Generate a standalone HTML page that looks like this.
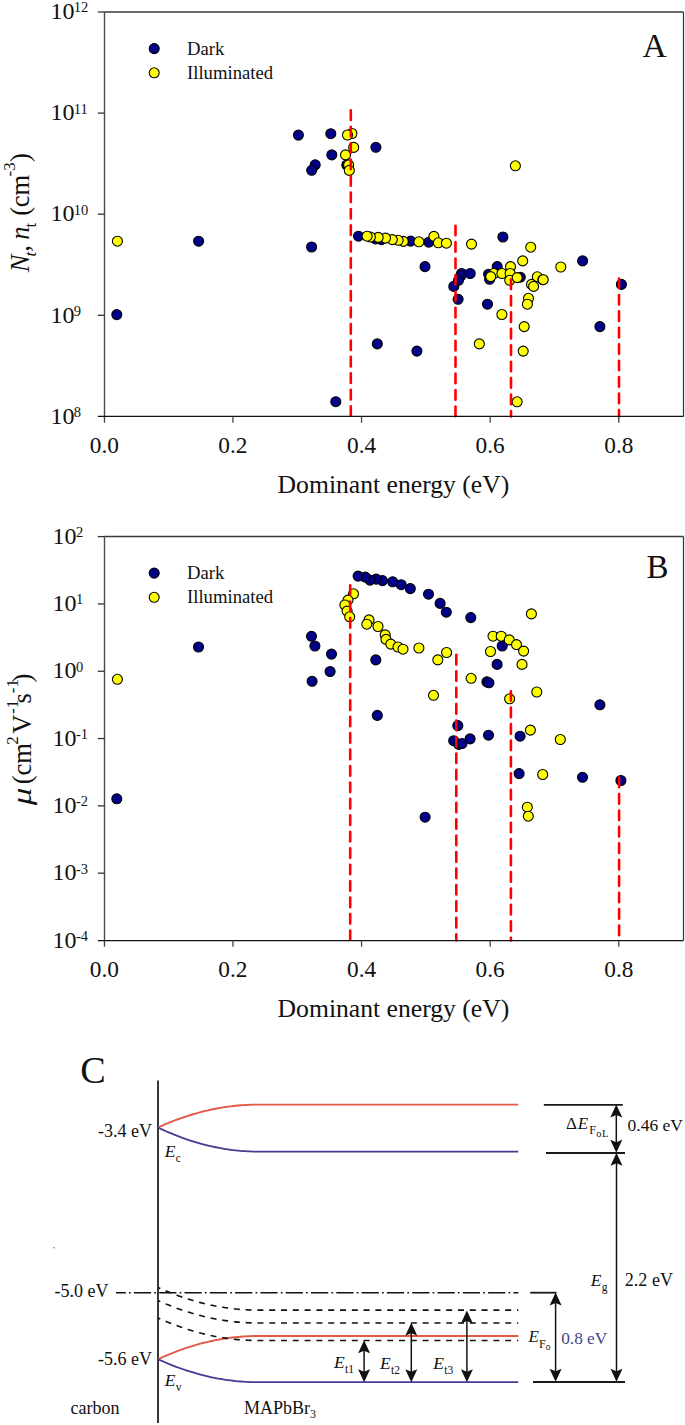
<!DOCTYPE html>
<html><head><meta charset="utf-8"><style>
html,body{margin:0;padding:0;background:#fff;overflow:hidden;}
svg{display:block;}
text{font-family:"Liberation Serif",serif;fill:#111;}
</style></head><body>
<svg width="685" height="1425" viewBox="0 0 685 1425">
<rect width="685" height="1425" fill="#fff"/>
<g stroke="#000" stroke-width="1.1"><circle cx="298.4" cy="135.1" r="5" fill="#000088"/><circle cx="330.8" cy="133.7" r="5" fill="#000088"/><circle cx="331.8" cy="154.9" r="5" fill="#000088"/><circle cx="315.2" cy="164.8" r="5" fill="#000088"/><circle cx="311.7" cy="170.3" r="5" fill="#000088"/><circle cx="375.9" cy="147.3" r="5" fill="#000088"/><circle cx="346.8" cy="165.0" r="5" fill="#000088"/><circle cx="198.6" cy="241.2" r="5" fill="#000088"/><circle cx="311.6" cy="247.0" r="5" fill="#000088"/><circle cx="116.8" cy="314.6" r="5" fill="#000088"/><circle cx="335.8" cy="401.7" r="5" fill="#000088"/><circle cx="358.5" cy="236.2" r="5" fill="#000088"/><circle cx="375.5" cy="238.9" r="5" fill="#000088"/><circle cx="381.4" cy="239.6" r="5" fill="#000088"/><circle cx="410.6" cy="241.1" r="5" fill="#000088"/><circle cx="428.8" cy="242.2" r="5" fill="#000088"/><circle cx="502.9" cy="237.0" r="5" fill="#000088"/><circle cx="425.0" cy="266.6" r="5" fill="#000088"/><circle cx="461.6" cy="273.5" r="5" fill="#000088"/><circle cx="470.2" cy="273.5" r="5" fill="#000088"/><circle cx="460.6" cy="276.2" r="5" fill="#000088"/><circle cx="458.5" cy="280.3" r="5" fill="#000088"/><circle cx="453.8" cy="286.4" r="5" fill="#000088"/><circle cx="458.1" cy="299.3" r="5" fill="#000088"/><circle cx="497.2" cy="266.6" r="5" fill="#000088"/><circle cx="488.6" cy="274.2" r="5" fill="#000088"/><circle cx="489.6" cy="279.3" r="5" fill="#000088"/><circle cx="520.3" cy="277.2" r="5" fill="#000088"/><circle cx="487.5" cy="304.2" r="5" fill="#000088"/><circle cx="582.6" cy="260.9" r="5" fill="#000088"/><circle cx="621.4" cy="284.4" r="5" fill="#000088"/><circle cx="599.9" cy="326.6" r="5" fill="#000088"/><circle cx="377.3" cy="343.9" r="5" fill="#000088"/><circle cx="416.9" cy="351.1" r="5" fill="#000088"/><circle cx="117.4" cy="241.2" r="5" fill="#ffff00"/><circle cx="351.9" cy="133.5" r="5" fill="#ffff00"/><circle cx="347.5" cy="135.0" r="5" fill="#ffff00"/><circle cx="353.7" cy="147.4" r="5" fill="#ffff00"/><circle cx="345.5" cy="154.9" r="5" fill="#ffff00"/><circle cx="348.6" cy="164.9" r="5" fill="#ffff00"/><circle cx="349.3" cy="170.4" r="5" fill="#ffff00"/><circle cx="418.9" cy="241.8" r="5" fill="#ffff00"/><circle cx="403.3" cy="241.4" r="5" fill="#ffff00"/><circle cx="398.2" cy="240.3" r="5" fill="#ffff00"/><circle cx="392.3" cy="239.6" r="5" fill="#ffff00"/><circle cx="385.5" cy="238.1" r="5" fill="#ffff00"/><circle cx="378.2" cy="237.4" r="5" fill="#ffff00"/><circle cx="370.4" cy="237.0" r="5" fill="#ffff00"/><circle cx="367.1" cy="236.2" r="5" fill="#ffff00"/><circle cx="433.9" cy="236.4" r="5" fill="#ffff00"/><circle cx="438.3" cy="242.8" r="5" fill="#ffff00"/><circle cx="446.4" cy="243.2" r="5" fill="#ffff00"/><circle cx="471.5" cy="244.1" r="5" fill="#ffff00"/><circle cx="530.7" cy="247.2" r="5" fill="#ffff00"/><circle cx="522.7" cy="260.9" r="5" fill="#ffff00"/><circle cx="560.8" cy="267.0" r="5" fill="#ffff00"/><circle cx="510.5" cy="266.6" r="5" fill="#ffff00"/><circle cx="493.7" cy="273.5" r="5" fill="#ffff00"/><circle cx="490.7" cy="276.6" r="5" fill="#ffff00"/><circle cx="501.9" cy="273.5" r="5" fill="#ffff00"/><circle cx="510.1" cy="273.5" r="5" fill="#ffff00"/><circle cx="509.7" cy="280.3" r="5" fill="#ffff00"/><circle cx="517.2" cy="277.6" r="5" fill="#ffff00"/><circle cx="537.3" cy="276.8" r="5" fill="#ffff00"/><circle cx="542.8" cy="279.7" r="5" fill="#ffff00"/><circle cx="543.2" cy="279.7" r="5" fill="#ffff00"/><circle cx="531.5" cy="284.4" r="5" fill="#ffff00"/><circle cx="533.6" cy="286.4" r="5" fill="#ffff00"/><circle cx="528.5" cy="298.3" r="5" fill="#ffff00"/><circle cx="527.4" cy="304.2" r="5" fill="#ffff00"/><circle cx="501.9" cy="314.5" r="5" fill="#ffff00"/><circle cx="515.4" cy="165.8" r="5" fill="#ffff00"/><circle cx="479.3" cy="343.9" r="5" fill="#ffff00"/><circle cx="524.2" cy="326.6" r="5" fill="#ffff00"/><circle cx="523.2" cy="351.1" r="5" fill="#ffff00"/><circle cx="517.1" cy="401.8" r="5" fill="#ffff00"/></g><line x1="350.8" y1="110.3" x2="350.8" y2="416.4" stroke="#ff0000" stroke-width="2.6" stroke-linecap="round" stroke-dasharray="9.6 6.84"/><line x1="455.5" y1="225.7" x2="455.5" y2="416.4" stroke="#ff0000" stroke-width="2.6" stroke-linecap="round" stroke-dasharray="9.6 6.84"/><line x1="511.0" y1="279.5" x2="511.0" y2="416.4" stroke="#ff0000" stroke-width="2.6" stroke-linecap="round" stroke-dasharray="9.6 6.84"/><line x1="619.0" y1="278.5" x2="619.0" y2="416.4" stroke="#ff0000" stroke-width="2.6" stroke-linecap="round" stroke-dasharray="9.6 6.84"/><line x1="104.5" y1="12.0" x2="683.5" y2="12.0" stroke="#3a3a3a" stroke-width="1.5"/><line x1="683.5" y1="12.0" x2="683.5" y2="416.4" stroke="#333" stroke-width="1.2"/><line x1="104.5" y1="12.0" x2="104.5" y2="422.7" stroke="#4a4a4a" stroke-width="1.4"/><line x1="97.8" y1="416.4" x2="683.5" y2="416.4" stroke="#111" stroke-width="1.25"/><line x1="97.8" y1="12.00" x2="104.5" y2="12.00" stroke="#333" stroke-width="1.3"/><text x="50.4" y="19.2" font-size="24">10<tspan font-size="14.5" dx="-0.7" dy="-6.8">12</tspan></text><line x1="97.8" y1="113.10" x2="104.5" y2="113.10" stroke="#333" stroke-width="1.3"/><text x="50.4" y="120.3" font-size="24">10<tspan font-size="14.5" dx="-0.7" dy="-6.8">11</tspan></text><line x1="97.8" y1="214.20" x2="104.5" y2="214.20" stroke="#333" stroke-width="1.3"/><text x="50.4" y="221.4" font-size="24">10<tspan font-size="14.5" dx="-0.7" dy="-6.8">10</tspan></text><line x1="97.8" y1="315.30" x2="104.5" y2="315.30" stroke="#333" stroke-width="1.3"/><text x="50.4" y="322.5" font-size="24">10<tspan font-size="14.5" dx="-0.7" dy="-6.8">9</tspan></text><text x="50.4" y="423.6" font-size="24">10<tspan font-size="14.5" dx="-0.7" dy="-6.8">8</tspan></text><text x="104.30" y="453.3" font-size="23.3" text-anchor="middle">0.0</text><line x1="232.93" y1="416.4" x2="232.93" y2="422.7" stroke="#444" stroke-width="1.3"/><text x="232.93" y="453.3" font-size="23.3" text-anchor="middle">0.2</text><line x1="361.55" y1="416.4" x2="361.55" y2="422.7" stroke="#444" stroke-width="1.3"/><text x="361.55" y="453.3" font-size="23.3" text-anchor="middle">0.4</text><line x1="490.18" y1="416.4" x2="490.18" y2="422.7" stroke="#444" stroke-width="1.3"/><text x="490.18" y="453.3" font-size="23.3" text-anchor="middle">0.6</text><line x1="618.80" y1="416.4" x2="618.80" y2="422.7" stroke="#444" stroke-width="1.3"/><text x="618.80" y="453.3" font-size="23.3" text-anchor="middle">0.8</text><text x="277.6" y="493.0" font-size="26" textLength="231.7" lengthAdjust="spacingAndGlyphs">Dominant energy (eV)</text><g stroke="#000" stroke-width="1.1"><circle cx="154.2" cy="48.6" r="5" fill="#000088"/><circle cx="154.2" cy="72.8" r="5" fill="#ffff00"/></g><text x="187" y="54.6" font-size="18.7">Dark</text><text x="187" y="78.7" font-size="18.7">Illuminated</text><text x="642.6" y="57" font-size="33.5">A</text><g transform="translate(28.6,274) rotate(-90)"><text x="1.8" y="0" font-size="26.5" font-style="italic">N</text><text x="17.6" y="7.1" font-size="17" font-style="italic">t</text><text x="22.2" y="0" font-size="26.5">,</text><text x="34.25" y="0" font-size="26.5" font-style="italic">n</text><text x="46.4" y="7.1" font-size="17">t</text><text x="58.2" y="0" font-size="26.5">(</text><text x="66.8" y="0" font-size="26.5">cm</text><text x="97.6" y="-13.4" font-size="17">-3</text><text x="112" y="0" font-size="26.5">)</text></g><g stroke="#000" stroke-width="1.1"><circle cx="410.3" cy="588.6" r="5" fill="#000088"/><circle cx="401.2" cy="584.7" r="5" fill="#000088"/><circle cx="392.7" cy="581.8" r="5" fill="#000088"/><circle cx="382.4" cy="580.6" r="5" fill="#000088"/><circle cx="376.2" cy="579.1" r="5" fill="#000088"/><circle cx="370.0" cy="580.1" r="5" fill="#000088"/><circle cx="365.3" cy="577.1" r="5" fill="#000088"/><circle cx="358.1" cy="576.1" r="5" fill="#000088"/><circle cx="428.5" cy="594.2" r="5" fill="#000088"/><circle cx="440.1" cy="603.4" r="5" fill="#000088"/><circle cx="446.3" cy="612.2" r="5" fill="#000088"/><circle cx="470.8" cy="617.6" r="5" fill="#000088"/><circle cx="311.5" cy="636.3" r="5" fill="#000088"/><circle cx="314.9" cy="646.0" r="5" fill="#000088"/><circle cx="331.5" cy="654.1" r="5" fill="#000088"/><circle cx="330.1" cy="671.5" r="5" fill="#000088"/><circle cx="312.1" cy="681.3" r="5" fill="#000088"/><circle cx="375.8" cy="659.9" r="5" fill="#000088"/><circle cx="377.3" cy="715.4" r="5" fill="#000088"/><circle cx="198.5" cy="647.0" r="5" fill="#000088"/><circle cx="116.8" cy="798.8" r="5" fill="#000088"/><circle cx="502.2" cy="646.0" r="5" fill="#000088"/><circle cx="497.1" cy="664.4" r="5" fill="#000088"/><circle cx="486.9" cy="681.8" r="5" fill="#000088"/><circle cx="488.9" cy="682.8" r="5" fill="#000088"/><circle cx="457.8" cy="725.6" r="5" fill="#000088"/><circle cx="453.7" cy="740.7" r="5" fill="#000088"/><circle cx="458.8" cy="744.4" r="5" fill="#000088"/><circle cx="462.0" cy="743.5" r="5" fill="#000088"/><circle cx="470.1" cy="738.9" r="5" fill="#000088"/><circle cx="488.5" cy="735.2" r="5" fill="#000088"/><circle cx="520.1" cy="736.2" r="5" fill="#000088"/><circle cx="519.1" cy="773.6" r="5" fill="#000088"/><circle cx="599.9" cy="704.8" r="5" fill="#000088"/><circle cx="582.5" cy="777.3" r="5" fill="#000088"/><circle cx="620.9" cy="780.5" r="5" fill="#000088"/><circle cx="425.1" cy="817.2" r="5" fill="#000088"/><circle cx="117.4" cy="679.3" r="5" fill="#ffff00"/><circle cx="353.5" cy="593.8" r="5" fill="#ffff00"/><circle cx="348.0" cy="600.1" r="5" fill="#ffff00"/><circle cx="344.9" cy="605.0" r="5" fill="#ffff00"/><circle cx="347.1" cy="611.1" r="5" fill="#ffff00"/><circle cx="349.7" cy="616.8" r="5" fill="#ffff00"/><circle cx="369.0" cy="619.9" r="5" fill="#ffff00"/><circle cx="366.8" cy="624.2" r="5" fill="#ffff00"/><circle cx="378.0" cy="626.5" r="5" fill="#ffff00"/><circle cx="385.2" cy="634.9" r="5" fill="#ffff00"/><circle cx="386.0" cy="639.4" r="5" fill="#ffff00"/><circle cx="390.8" cy="644.1" r="5" fill="#ffff00"/><circle cx="398.0" cy="647.0" r="5" fill="#ffff00"/><circle cx="403.0" cy="649.2" r="5" fill="#ffff00"/><circle cx="418.9" cy="648.0" r="5" fill="#ffff00"/><circle cx="531.4" cy="613.9" r="5" fill="#ffff00"/><circle cx="493.0" cy="636.2" r="5" fill="#ffff00"/><circle cx="501.2" cy="636.2" r="5" fill="#ffff00"/><circle cx="509.3" cy="639.9" r="5" fill="#ffff00"/><circle cx="516.5" cy="644.6" r="5" fill="#ffff00"/><circle cx="523.6" cy="651.1" r="5" fill="#ffff00"/><circle cx="490.5" cy="651.5" r="5" fill="#ffff00"/><circle cx="522.0" cy="664.4" r="5" fill="#ffff00"/><circle cx="446.6" cy="652.5" r="5" fill="#ffff00"/><circle cx="437.8" cy="659.9" r="5" fill="#ffff00"/><circle cx="471.1" cy="678.3" r="5" fill="#ffff00"/><circle cx="433.5" cy="695.3" r="5" fill="#ffff00"/><circle cx="536.8" cy="692.0" r="5" fill="#ffff00"/><circle cx="509.6" cy="698.8" r="5" fill="#ffff00"/><circle cx="530.4" cy="730.1" r="5" fill="#ffff00"/><circle cx="560.3" cy="739.5" r="5" fill="#ffff00"/><circle cx="542.7" cy="774.5" r="5" fill="#ffff00"/><circle cx="527.3" cy="807.2" r="5" fill="#ffff00"/><circle cx="528.3" cy="816.2" r="5" fill="#ffff00"/></g><line x1="350.2" y1="585.2" x2="350.2" y2="940.5" stroke="#ff0000" stroke-width="2.6" stroke-linecap="round" stroke-dasharray="9.6 6.84"/><line x1="456.3" y1="654.8" x2="456.3" y2="940.5" stroke="#ff0000" stroke-width="2.6" stroke-linecap="round" stroke-dasharray="9.6 6.84"/><line x1="510.9" y1="691.2" x2="510.9" y2="940.5" stroke="#ff0000" stroke-width="2.6" stroke-linecap="round" stroke-dasharray="9.6 6.84"/><line x1="619.1" y1="777.6" x2="619.1" y2="940.5" stroke="#ff0000" stroke-width="2.6" stroke-linecap="round" stroke-dasharray="9.6 6.84"/><line x1="104.5" y1="536.6" x2="683.5" y2="536.6" stroke="#3a3a3a" stroke-width="1.5"/><line x1="683.5" y1="536.6" x2="683.5" y2="940.5" stroke="#333" stroke-width="1.2"/><line x1="104.5" y1="536.6" x2="104.5" y2="946.8" stroke="#4a4a4a" stroke-width="1.4"/><line x1="97.8" y1="940.5" x2="683.5" y2="940.5" stroke="#111" stroke-width="1.25"/><line x1="97.8" y1="536.60" x2="104.5" y2="536.60" stroke="#333" stroke-width="1.3"/><text x="52.6" y="543.8" font-size="24">10<tspan font-size="14.5" dx="-0.7" dy="-6.8">2</tspan></text><line x1="97.8" y1="603.92" x2="104.5" y2="603.92" stroke="#333" stroke-width="1.3"/><text x="52.6" y="611.1" font-size="24">10<tspan font-size="14.5" dx="-0.7" dy="-6.8">1</tspan></text><line x1="97.8" y1="671.23" x2="104.5" y2="671.23" stroke="#333" stroke-width="1.3"/><text x="52.6" y="678.4" font-size="24">10<tspan font-size="14.5" dx="-0.7" dy="-6.8">0</tspan></text><line x1="97.8" y1="738.55" x2="104.5" y2="738.55" stroke="#333" stroke-width="1.3"/><text x="52.6" y="745.8" font-size="24">10<tspan font-size="14.5" dx="-0.7" dy="-6.8">-1</tspan></text><line x1="97.8" y1="805.87" x2="104.5" y2="805.87" stroke="#333" stroke-width="1.3"/><text x="52.6" y="813.1" font-size="24">10<tspan font-size="14.5" dx="-0.7" dy="-6.8">-2</tspan></text><line x1="97.8" y1="873.18" x2="104.5" y2="873.18" stroke="#333" stroke-width="1.3"/><text x="52.6" y="880.4" font-size="24">10<tspan font-size="14.5" dx="-0.7" dy="-6.8">-3</tspan></text><text x="52.6" y="947.7" font-size="24">10<tspan font-size="14.5" dx="-0.7" dy="-6.8">-4</tspan></text><text x="104.30" y="977.2" font-size="23.3" text-anchor="middle">0.0</text><line x1="232.93" y1="940.5" x2="232.93" y2="946.8" stroke="#444" stroke-width="1.3"/><text x="232.93" y="977.2" font-size="23.3" text-anchor="middle">0.2</text><line x1="361.55" y1="940.5" x2="361.55" y2="946.8" stroke="#444" stroke-width="1.3"/><text x="361.55" y="977.2" font-size="23.3" text-anchor="middle">0.4</text><line x1="490.18" y1="940.5" x2="490.18" y2="946.8" stroke="#444" stroke-width="1.3"/><text x="490.18" y="977.2" font-size="23.3" text-anchor="middle">0.6</text><line x1="618.80" y1="940.5" x2="618.80" y2="946.8" stroke="#444" stroke-width="1.3"/><text x="618.80" y="977.2" font-size="23.3" text-anchor="middle">0.8</text><text x="277.6" y="1017.4" font-size="26" textLength="231.7" lengthAdjust="spacingAndGlyphs">Dominant energy (eV)</text><g stroke="#000" stroke-width="1.1"><circle cx="154.2" cy="573.1" r="5" fill="#000088"/><circle cx="154.2" cy="597.3" r="5" fill="#ffff00"/></g><text x="187" y="579.1" font-size="18.7">Dark</text><text x="187" y="603.2" font-size="18.7">Illuminated</text><text x="646.6" y="577.6" font-size="33">B</text><g transform="translate(31.4,806) rotate(-90)"><text x="0.7" y="0" font-size="26.5" font-style="italic" textLength="17.7" lengthAdjust="spacingAndGlyphs">μ</text><text x="21.7" y="0" font-size="26.5">(</text><text x="30.6" y="0" font-size="26.5">cm</text><text x="61.25" y="-13.2" font-size="17">2</text><text x="72.3" y="0" font-size="26.5">V</text><text x="92.1" y="-13.2" font-size="17">-1</text><text x="102.5" y="0" font-size="26.5">s</text><text x="112.8" y="-13.2" font-size="17">-1</text><text x="123.45" y="0" font-size="26.5">)</text></g><text x="80.2" y="1082.6" font-size="38.2">C</text><line x1="158" y1="1080.5" x2="158" y2="1423" stroke="#222" stroke-width="1.8"/><path d="M158.0,1127.50 L160.5,1126.37 L163.0,1125.27 L165.5,1124.19 L168.0,1123.15 L170.5,1122.13 L173.0,1121.15 L175.5,1120.19 L178.0,1119.26 L180.5,1118.35 L183.0,1117.48 L185.5,1116.64 L188.0,1115.82 L190.5,1115.03 L193.0,1114.28 L195.5,1113.55 L198.0,1112.84 L200.5,1112.17 L203.0,1111.53 L205.5,1110.91 L208.0,1110.32 L210.5,1109.77 L213.0,1109.24 L215.5,1108.74 L218.0,1108.26 L220.5,1107.82 L223.0,1107.41 L225.5,1107.02 L228.0,1106.66 L230.5,1106.33 L233.0,1106.03 L235.5,1105.76 L238.0,1105.52 L240.5,1105.30 L243.0,1105.12 L245.5,1104.96 L248.0,1104.83 L250.5,1104.73 L253.0,1104.66 L255.5,1104.61 L258.0,1104.60 L518.3,1104.6" fill="none" stroke="#e25a46" stroke-width="1.9"/><path d="M158.0,1127.50 L160.5,1128.69 L163.0,1129.85 L165.5,1130.98 L168.0,1132.08 L170.5,1133.15 L173.0,1134.19 L175.5,1135.20 L178.0,1136.18 L180.5,1137.12 L183.0,1138.04 L185.5,1138.93 L188.0,1139.79 L190.5,1140.62 L193.0,1141.42 L195.5,1142.19 L198.0,1142.92 L200.5,1143.63 L203.0,1144.31 L205.5,1144.96 L208.0,1145.57 L210.5,1146.16 L213.0,1146.72 L215.5,1147.25 L218.0,1147.74 L220.5,1148.21 L223.0,1148.65 L225.5,1149.05 L228.0,1149.43 L230.5,1149.78 L233.0,1150.09 L235.5,1150.38 L238.0,1150.64 L240.5,1150.86 L243.0,1151.06 L245.5,1151.22 L248.0,1151.36 L250.5,1151.46 L253.0,1151.54 L255.5,1151.58 L258.0,1151.60 L518.3,1151.6" fill="none" stroke="#483b93" stroke-width="1.8"/><path d="M158.0,1359.20 L160.5,1358.05 L163.0,1356.94 L165.5,1355.85 L168.0,1354.79 L170.5,1353.76 L173.0,1352.76 L175.5,1351.79 L178.0,1350.85 L180.5,1349.93 L183.0,1349.05 L185.5,1348.19 L188.0,1347.37 L190.5,1346.57 L193.0,1345.80 L195.5,1345.06 L198.0,1344.35 L200.5,1343.67 L203.0,1343.02 L205.5,1342.39 L208.0,1341.80 L210.5,1341.23 L213.0,1340.70 L215.5,1340.19 L218.0,1339.71 L220.5,1339.26 L223.0,1338.84 L225.5,1338.45 L228.0,1338.09 L230.5,1337.75 L233.0,1337.45 L235.5,1337.17 L238.0,1336.93 L240.5,1336.71 L243.0,1336.52 L245.5,1336.36 L248.0,1336.23 L250.5,1336.13 L253.0,1336.06 L255.5,1336.01 L258.0,1336.00 L518.3,1336.0" fill="none" stroke="#e25a46" stroke-width="1.9"/><path d="M158.0,1359.20 L160.5,1360.34 L163.0,1361.44 L165.5,1362.52 L168.0,1363.57 L170.5,1364.59 L173.0,1365.58 L175.5,1366.55 L178.0,1367.48 L180.5,1368.39 L183.0,1369.26 L185.5,1370.11 L188.0,1370.93 L190.5,1371.72 L193.0,1372.48 L195.5,1373.22 L198.0,1373.92 L200.5,1374.60 L203.0,1375.24 L205.5,1375.86 L208.0,1376.45 L210.5,1377.01 L213.0,1377.54 L215.5,1378.05 L218.0,1378.52 L220.5,1378.97 L223.0,1379.38 L225.5,1379.77 L228.0,1380.13 L230.5,1380.46 L233.0,1380.76 L235.5,1381.04 L238.0,1381.28 L240.5,1381.50 L243.0,1381.68 L245.5,1381.84 L248.0,1381.97 L250.5,1382.07 L253.0,1382.14 L255.5,1382.19 L258.0,1382.20 L518.3,1382.2" fill="none" stroke="#483b93" stroke-width="1.8"/><path d="M158.0,1287.50 L160.5,1288.62 L163.0,1289.70 L165.5,1290.76 L168.0,1291.79 L170.5,1292.80 L173.0,1293.77 L175.5,1294.72 L178.0,1295.64 L180.5,1296.53 L183.0,1297.39 L185.5,1298.22 L188.0,1299.03 L190.5,1299.80 L193.0,1300.55 L195.5,1301.27 L198.0,1301.96 L200.5,1302.63 L203.0,1303.26 L205.5,1303.87 L208.0,1304.45 L210.5,1305.00 L213.0,1305.52 L215.5,1306.02 L218.0,1306.48 L220.5,1306.92 L223.0,1307.33 L225.5,1307.71 L228.0,1308.07 L230.5,1308.39 L233.0,1308.69 L235.5,1308.96 L238.0,1309.20 L240.5,1309.41 L243.0,1309.59 L245.5,1309.75 L248.0,1309.87 L250.5,1309.97 L253.0,1310.04 L255.5,1310.09 L258.0,1310.10 L518.3,1310.1" fill="none" stroke="#111" stroke-width="1.6" stroke-dasharray="6 5.8" stroke-dashoffset="3.5"/><path d="M158.0,1300.60 L160.5,1301.71 L163.0,1302.78 L165.5,1303.83 L168.0,1304.86 L170.5,1305.85 L173.0,1306.82 L175.5,1307.75 L178.0,1308.66 L180.5,1309.55 L183.0,1310.40 L185.5,1311.23 L188.0,1312.02 L190.5,1312.79 L193.0,1313.54 L195.5,1314.25 L198.0,1314.94 L200.5,1315.59 L203.0,1316.22 L205.5,1316.83 L208.0,1317.40 L210.5,1317.95 L213.0,1318.46 L215.5,1318.95 L218.0,1319.42 L220.5,1319.85 L223.0,1320.26 L225.5,1320.63 L228.0,1320.98 L230.5,1321.31 L233.0,1321.60 L235.5,1321.87 L238.0,1322.10 L240.5,1322.31 L243.0,1322.50 L245.5,1322.65 L248.0,1322.78 L250.5,1322.87 L253.0,1322.94 L255.5,1322.99 L258.0,1323.00 L518.3,1323.0" fill="none" stroke="#111" stroke-width="1.6" stroke-dasharray="6 5.8" stroke-dashoffset="3.5"/><path d="M158.0,1317.90 L160.5,1319.02 L163.0,1320.10 L165.5,1321.16 L168.0,1322.19 L170.5,1323.20 L173.0,1324.17 L175.5,1325.12 L178.0,1326.04 L180.5,1326.93 L183.0,1327.79 L185.5,1328.62 L188.0,1329.43 L190.5,1330.20 L193.0,1330.95 L195.5,1331.67 L198.0,1332.36 L200.5,1333.03 L203.0,1333.66 L205.5,1334.27 L208.0,1334.85 L210.5,1335.40 L213.0,1335.92 L215.5,1336.42 L218.0,1336.88 L220.5,1337.32 L223.0,1337.73 L225.5,1338.11 L228.0,1338.47 L230.5,1338.79 L233.0,1339.09 L235.5,1339.36 L238.0,1339.60 L240.5,1339.81 L243.0,1339.99 L245.5,1340.15 L248.0,1340.27 L250.5,1340.37 L253.0,1340.44 L255.5,1340.49 L258.0,1340.50 L518.3,1340.5" fill="none" stroke="#111" stroke-width="1.6" stroke-dasharray="6 5.8" stroke-dashoffset="3.5"/><line x1="116" y1="1292.8" x2="518.3" y2="1292.8" stroke="#111" stroke-width="1.6" stroke-dasharray="17.2 3.2 1.7 3.2" stroke-dashoffset="7.4"/><line x1="543.8" y1="1104.8" x2="622.8" y2="1104.8" stroke="#1a1a1a" stroke-width="1.8"/><line x1="546" y1="1153" x2="625" y2="1153" stroke="#1a1a1a" stroke-width="1.8"/><line x1="530.2" y1="1292.7" x2="556.5" y2="1292.7" stroke="#1a1a1a" stroke-width="1.8"/><line x1="533" y1="1382" x2="625" y2="1382" stroke="#1a1a1a" stroke-width="1.8"/><line x1="616.3" y1="1107.6" x2="616.3" y2="1149.8" stroke="#111" stroke-width="1.5"/><path d="M616.3,1104.6 L610.3,1117.6 L616.3,1115.1 L622.3,1117.6 Z" fill="#111"/><path d="M616.3,1152.8 L610.3,1139.8 L616.3,1142.3 L622.3,1139.8 Z" fill="#111"/><line x1="616.5" y1="1155.8" x2="616.5" y2="1378.8" stroke="#111" stroke-width="1.5"/><path d="M616.5,1152.8 L610.5,1165.8 L616.5,1163.3 L622.5,1165.8 Z" fill="#111"/><path d="M616.5,1381.8 L610.5,1368.8 L616.5,1371.3 L622.5,1368.8 Z" fill="#111"/><line x1="555.6" y1="1295.6" x2="555.6" y2="1378.8" stroke="#111" stroke-width="1.5"/><path d="M555.6,1292.6 L549.6,1305.6 L555.6,1303.1 L561.6,1305.6 Z" fill="#111"/><path d="M555.6,1381.8 L549.6,1368.8 L555.6,1371.3 L561.6,1368.8 Z" fill="#111"/><line x1="364.1" y1="1343.3" x2="364.1" y2="1379.2" stroke="#111" stroke-width="1.5"/><path d="M364.1,1340.3 L358.1,1353.3 L364.1,1350.8 L370.1,1353.3 Z" fill="#111"/><path d="M364.1,1382.2 L358.1,1369.2 L364.1,1371.7 L370.1,1369.2 Z" fill="#111"/><line x1="411.3" y1="1325.8" x2="411.3" y2="1379.2" stroke="#111" stroke-width="1.5"/><path d="M411.3,1322.8 L405.3,1335.8 L411.3,1333.3 L417.3,1335.8 Z" fill="#111"/><path d="M411.3,1382.2 L405.3,1369.2 L411.3,1371.7 L417.3,1369.2 Z" fill="#111"/><line x1="466.9" y1="1313.5" x2="466.9" y2="1379.2" stroke="#111" stroke-width="1.5"/><path d="M466.9,1310.5 L460.9,1323.5 L466.9,1321.0 L472.9,1323.5 Z" fill="#111"/><path d="M466.9,1382.2 L460.9,1369.2 L466.9,1371.7 L472.9,1369.2 Z" fill="#111"/><text x="98" y="1137" font-size="18" >-3.4 eV</text><text x="54.5" y="1297" font-size="18" >-5.0 eV</text><text x="98" y="1365.2" font-size="18" >-5.6 eV</text><text x="70.5" y="1414.4" font-size="18" >carbon</text><text x="244" y="1414.3" font-size="18">MAPbBr<tspan font-size="12" dy="4">3</tspan></text><text x="164.8" y="1156.5" font-size="17.5"><tspan font-style="italic">E</tspan><tspan font-size="11.5" dx="0.3" dy="5">c</tspan></text><text x="164.8" y="1385.6" font-size="17.5"><tspan font-style="italic">E</tspan><tspan font-size="11.5" dx="0.3" dy="5">v</tspan></text><text x="334" y="1368" font-size="17.5"><tspan font-style="italic">E</tspan><tspan font-size="11.5" dx="0.3" dy="5">t1</tspan></text><text x="380" y="1368.9" font-size="17.5"><tspan font-style="italic">E</tspan><tspan font-size="11.5" dx="0.3" dy="5">t2</tspan></text><text x="433.2" y="1368.9" font-size="17.5"><tspan font-style="italic">E</tspan><tspan font-size="11.5" dx="0.3" dy="5">t3</tspan></text><text x="590.7" y="1285.8" font-size="17.5"><tspan font-style="italic">E</tspan><tspan font-size="11.5" dx="0.3" dy="5">g</tspan></text><text x="528.6" y="1342.2" font-size="17"><tspan font-style="italic">E</tspan><tspan font-size="12" dy="5.5">F</tspan><tspan font-size="9.5" dy="2">o</tspan></text><text x="566" y="1128.9" font-size="17">Δ<tspan font-style="italic" dx="0.8">E</tspan><tspan font-size="12" dx="1.2" dy="4.8">F</tspan><tspan font-size="10.5" dx="0.3" dy="3.6" letter-spacing="0.5">oL</tspan></text><text x="627.5" y="1130.8" font-size="17.5" >0.46 eV</text><text x="624.8" y="1286.4" font-size="18.1" >2.2 eV</text><text x="561.2" y="1343.6" font-size="17.3" style="fill:#45458a">0.8 eV</text><circle cx="54.1" cy="1247.8" r="0.8" fill="#777"/>
</svg></body></html>
